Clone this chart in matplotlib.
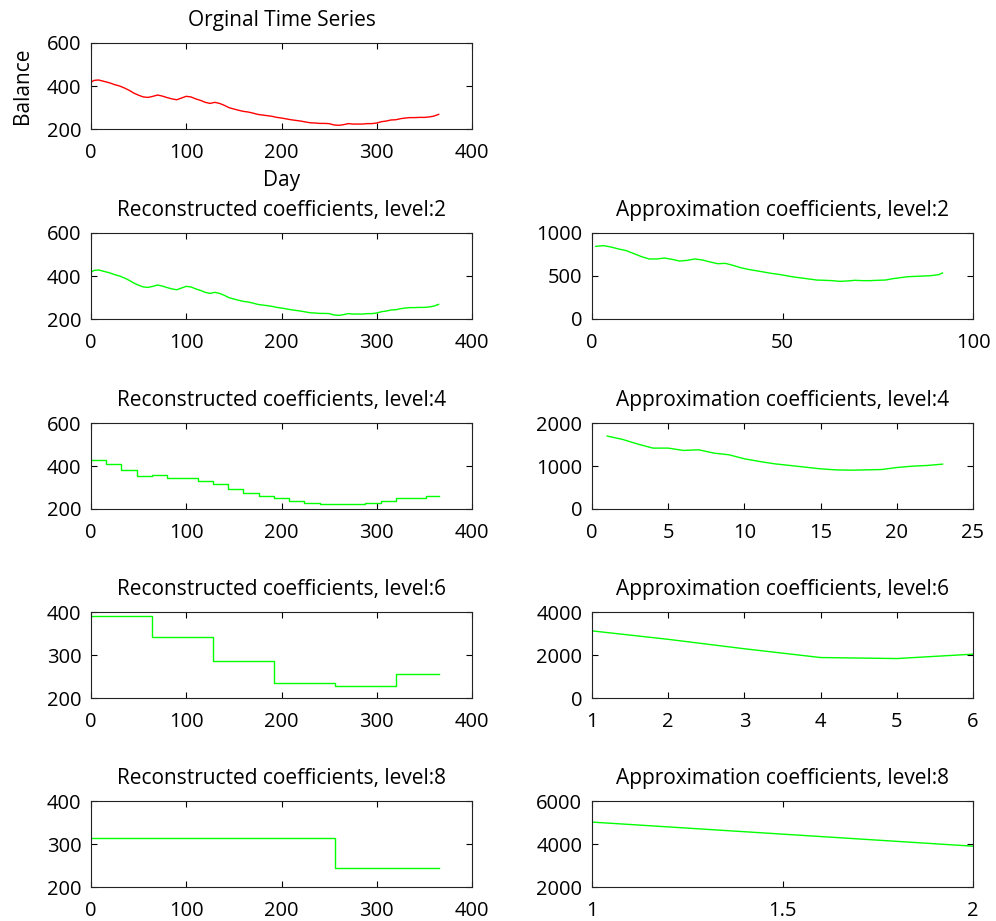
import matplotlib
matplotlib.use("Agg")
import matplotlib.pyplot as plt

plt.rcParams['font.family'] = ['Open Sans', 'DejaVu Sans']

# original daily balance (read every 5 days)
days = [1, 3, 8, 15, 20, 25, 30, 35, 40, 45, 50, 55, 60, 65, 70, 75, 80, 85, 90,
        95, 100, 105, 110, 115, 120, 125, 130, 135, 140, 145, 150, 155, 160, 165,
        170, 175, 180, 185, 190, 195, 200, 205, 210, 215, 220, 225, 230, 235, 240,
        245, 250, 255, 260, 265, 270, 275, 280, 285, 290, 295, 300, 305, 310, 315,
        320, 325, 330, 335, 340, 345, 350, 355, 360, 365]
balance = [420, 426, 428, 420, 414, 406, 400, 391, 380, 367, 357, 349, 347, 352,
           358, 353, 346, 340, 336, 344, 352, 349, 340, 333, 324, 319, 324, 319,
           310, 299, 293, 287, 282, 279, 274, 268, 265, 262, 259, 254, 251, 247,
           243, 240, 237, 233, 229, 228, 226, 226, 225, 219, 217, 220, 225, 223,
           223, 223, 225, 225, 228, 234, 237, 242, 243, 248, 251, 253, 253, 254,
           254, 256, 260, 268]

# level 2
rec2_days = days
rec2_vals = balance
app2_idx = [1, 3, 5, 7, 9, 11, 13, 15, 17, 19, 21, 23, 25, 27, 29, 31, 33, 35, 37,
            39, 41, 43, 45, 47, 49, 51, 53, 55, 57, 59, 61, 63, 65, 67, 69, 71, 73,
            75, 77, 79, 81, 83, 85, 87, 89, 91, 92]
app2_vals = [845, 853, 837, 814, 795, 760, 725, 698, 698, 709, 694, 674, 682, 698,
             686, 663, 643, 647, 624, 597, 577, 562, 547, 531, 519, 504, 488, 477,
             465, 453, 450, 446, 438, 442, 450, 446, 446, 450, 453, 469, 481, 492,
             496, 500, 504, 516, 535]

# level 4 (16-day blocks)
rec4_edges = [1, 16, 32, 48, 64, 80, 96, 112, 128, 144, 160, 176, 192, 208, 224,
              240, 256, 272, 288, 304, 320, 336, 352, 365]
rec4_vals = [426, 407, 380, 354, 356, 342, 345, 328, 314, 292, 275, 262, 251, 239,
             230, 225, 222, 225, 228, 239, 250, 253, 261]
app4_idx = list(range(1, 24))
app4_vals = [1696, 1619, 1510, 1416, 1416, 1362, 1377, 1300, 1260, 1167, 1105,
             1050, 1012, 973, 934, 910, 903, 910, 918, 965, 996, 1012, 1043]

# level 6 (64-day blocks)
rec6_edges = [1, 64, 128, 192, 256, 320, 365]
rec6_vals = [391, 343, 286, 235, 229, 256]
app6_idx = [1, 2, 3, 4, 5, 6]
app6_vals = [3122, 2729, 2290, 1882, 1835, 2039]

# level 8 (256-day blocks)
rec8_edges = [1, 256, 365]
rec8_vals = [314, 244]
app8_idx = [1, 2]
app8_vals = [5019, 3899]

fig = plt.figure(figsize=(9.96, 9.21), dpi=100)
W, H = 996.0, 921.0
row_top = [43, 233, 423, 612, 801]
ax_h = 86
col_left = [91, 592]
ax_w = 381
TICK_FS = 14.5
TITLE_FS = 15


def make_ax(r, c):
    l = col_left[c] / W
    b = 1 - (row_top[r] + ax_h) / H
    ax = fig.add_axes([l, b, ax_w / W, ax_h / H])
    ax.tick_params(direction='in', top=True, right=True, length=4, width=0.8,
                   labelsize=TICK_FS)
    ax.tick_params(axis='x', pad=10)
    ax.tick_params(axis='y', pad=7)
    for s in ax.spines.values():
        s.set_linewidth(0.8)
        s.set_color('#222222')
    return ax


def steps(edges, vals):
    xs, ys = [], []
    for i, v in enumerate(vals):
        xs += [edges[i], edges[i + 1]]
        ys += [v, v]
    return xs, ys


ax = make_ax(0, 0)
ax.plot(days, balance, color='#ff0000', lw=1)
ax.set_xlim(0, 400)
ax.set_ylim(200, 600)
ax.set_yticks([200, 400, 600])
ax.set_title('Orginal Time Series', fontsize=TITLE_FS, pad=12)
ax.set_xlabel('Day', fontsize=TITLE_FS, labelpad=5)
ax.set_ylabel('Balance', fontsize=TITLE_FS, labelpad=10)

rec = [(rec2_days, rec2_vals, False, (200, 600), [200, 400, 600], 2),
       (rec4_edges, rec4_vals, True, (200, 600), [200, 400, 600], 4),
       (rec6_edges, rec6_vals, True, (200, 400), [200, 300, 400], 6),
       (rec8_edges, rec8_vals, True, (200, 400), [200, 300, 400], 8)]
app = [(app2_idx, app2_vals, (0, 100), [0, 50, 100], (0, 1000), [0, 500, 1000]),
       (app4_idx, app4_vals, (0, 25), [0, 5, 10, 15, 20, 25], (0, 2000), [0, 1000, 2000]),
       (app6_idx, app6_vals, (1, 6), [1, 2, 3, 4, 5, 6], (0, 4000), [0, 2000, 4000]),
       (app8_idx, app8_vals, (1, 2), [1, 1.5, 2], (2000, 6000), [2000, 4000, 6000])]

for r in range(4):
    xs, ys, is_step, ylim, yt, lev = rec[r]
    ax = make_ax(r + 1, 0)
    if is_step:
        xs, ys = steps(xs, ys)
    ax.plot(xs, ys, color='#00ff00', lw=1)
    ax.set_xlim(0, 400)
    ax.set_xticks([0, 100, 200, 300, 400])
    ax.set_ylim(*ylim)
    ax.set_yticks(yt)
    ax.set_title('Reconstructed coefficients, level:%d' % lev, fontsize=TITLE_FS, pad=12)

    xi, yv, xl, xt, yl, ytk = app[r]
    ax = make_ax(r + 1, 1)
    ax.plot(xi, yv, color='#00ff00', lw=1)
    ax.set_xlim(*xl)
    ax.set_xticks(xt)
    ax.set_xticklabels([('%g' % t) for t in xt])
    ax.set_ylim(*yl)
    ax.set_yticks(ytk)
    ax.set_title('Approximation coefficients, level:%d' % lev, fontsize=TITLE_FS, pad=12)

fig.savefig('out.png', dpi=100)
